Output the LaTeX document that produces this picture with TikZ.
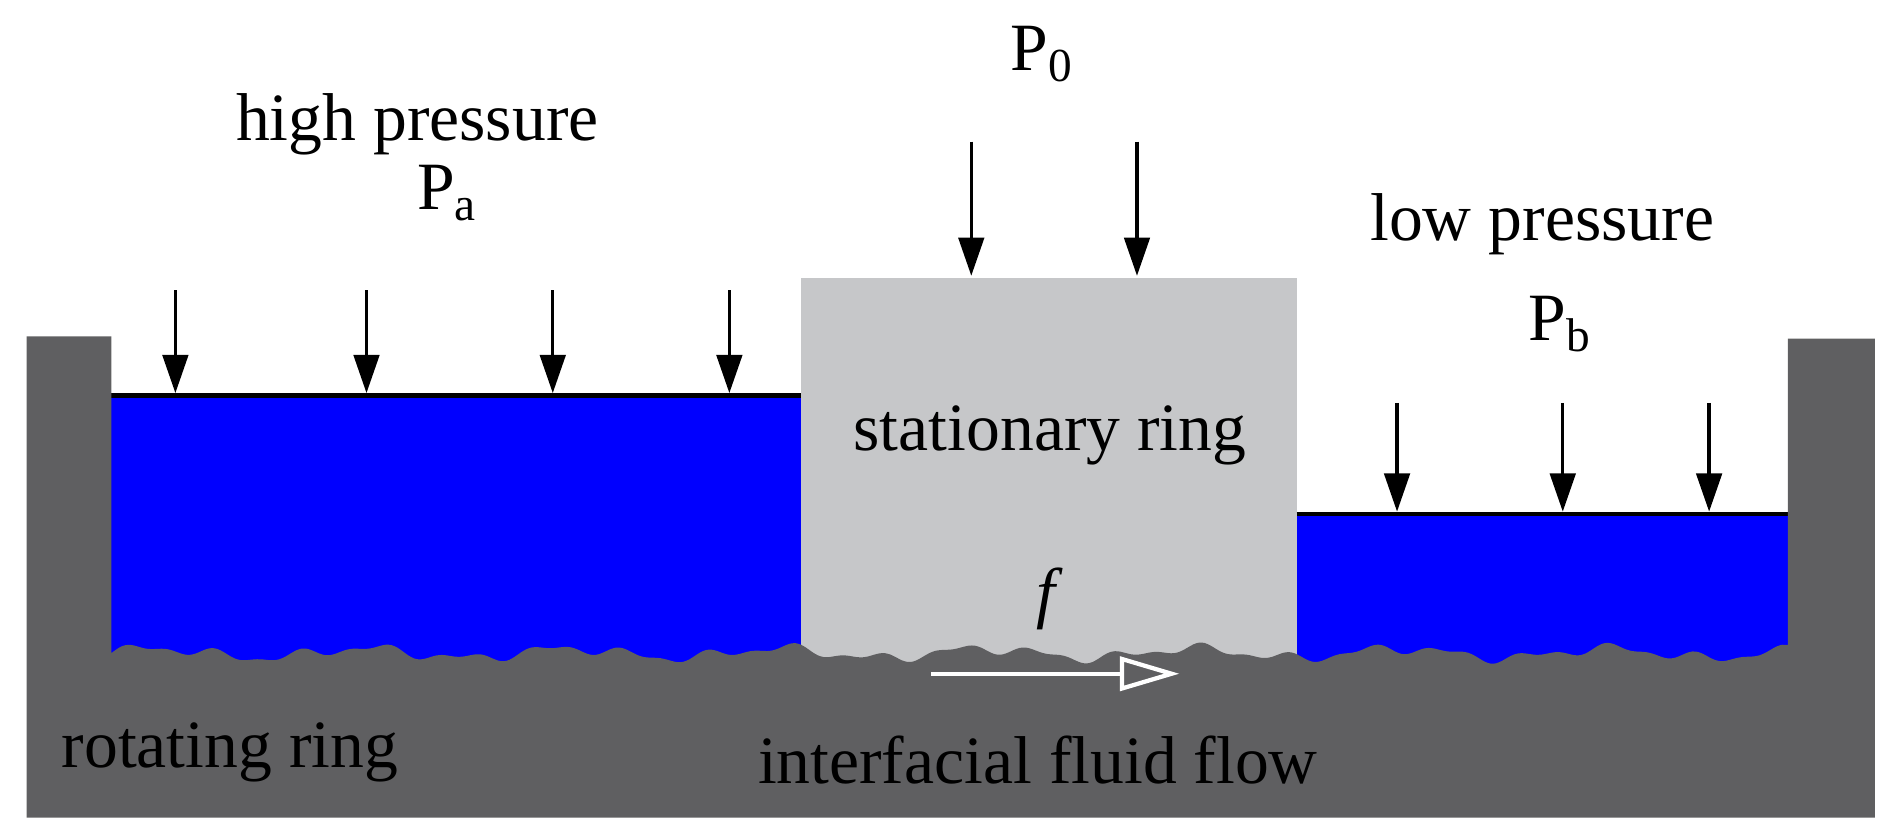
\documentclass[tikz,border=0pt]{standalone}
\usepackage{fontspec}
\setmainfont{Liberation Serif}
\usetikzlibrary{arrows.meta}
\begin{document}
\begin{tikzpicture}[x=0.01cm,y=-0.01cm,
  lbl/.style={font=\fontsize{15.9}{18}\selectfont,inner sep=0},
  pr/.style={-{Triangle[length=9pt,width=6pt]},line width=0.8pt}]
\useasboundingbox (0,0) rectangle (1570,690);
\definecolor{dark}{HTML}{5F5F61}
\definecolor{ring}{HTML}{C6C7C9}
\definecolor{fluid}{HTML}{0000FF}
\fill[fluid] (92,327) rectangle (662,560);
\fill[ring] (662,230) rectangle (1072,560);
\fill[fluid] (1072,425) rectangle (1480,560);
\draw[line width=1pt] (92,327) -- (662,327);
\draw[line width=1pt] (1072,425) -- (1480,425);
\fill[dark] (22,278) -- (92,278) -- (92,538)
  -- plot[domain=92:1478,samples=300,smooth] (\x,{540+4*sin(\x*2.1)+3*sin(\x*5.3+40)+2*sin(\x*9.7)})
  -- (1478,538) -- (1478,280) -- (1550,280) -- (1550,676) -- (22,676) -- cycle;
\foreach \x [count=\i] in {145,303,457,603} {\coordinate (a\i) at (\x,240); \coordinate (b\i) at (\x,325);}
\foreach \i in {1,...,4} \draw[pr] (a\i) -- (b\i);
\foreach \x [count=\i] in {803,940} {\coordinate (c\i) at (\x,117); \coordinate (d\i) at (\x,228);}
\foreach \i in {1,2} \draw[pr] (c\i) -- (d\i);
\foreach \x [count=\i] in {1155,1292,1413} {\coordinate (e\i) at (\x,333); \coordinate (g\i) at (\x,423);}
\foreach \i in {1,2,3} \draw[pr] (e\i) -- (g\i);
\coordinate (fa) at (770,557); \coordinate (fb) at (975,557);
\draw[white,line width=1pt,-{Triangle[open,length=14pt,width=8pt]},fill=white] (fa) -- (fb);
\node[lbl] (hp) at (345,103) {high pressure};
\node[lbl] (pa) at (370,160) {P\textsubscript{a}};
\node[lbl] (p0) at (862,45) {P\textsubscript{0}};
\node[lbl] (lp) at (1275,185) {low pressure};
\node[lbl] (pb) at (1290,268) {P\textsubscript{b}};
\node[lbl] (sr) at (868,360) {stationary ring};
\node[lbl] (f) at (868,495) {\textit{f}};
\node[lbl] (rr) at (190,622) {rotating ring};
\node[lbl] (iff) at (858,628) {interfacial fluid flow};
\end{tikzpicture}
\end{document}
